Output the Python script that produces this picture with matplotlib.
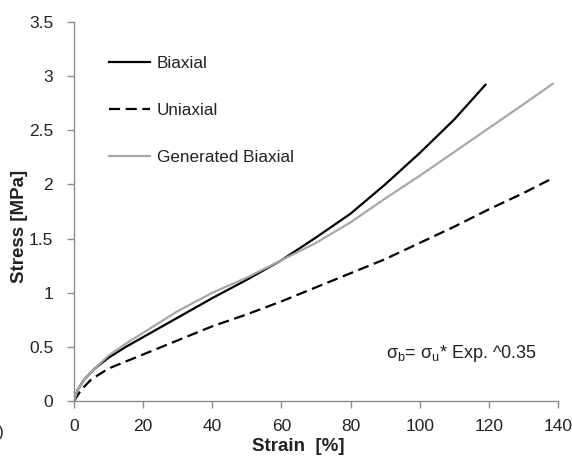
import matplotlib
matplotlib.use('Agg')
import matplotlib.pyplot as plt

plt.rcParams['font.family'] = ['Liberation Sans', 'DejaVu Sans']
plt.rcParams['mathtext.fontset'] = 'custom'
plt.rcParams['mathtext.rm'] = 'Liberation Sans'
plt.rcParams['mathtext.it'] = 'Liberation Sans'

# Stress-strain curves (strain in %, stress in MPa)
biax_strain = [0, 1, 3, 6, 10, 15, 20, 30, 40, 50, 60, 70, 80, 90, 100, 110, 119]
biax_stress = [0, 0.1, 0.2, 0.3, 0.4, 0.5, 0.59, 0.77, 0.95, 1.12, 1.3, 1.51, 1.73, 2.0, 2.29, 2.6, 2.92]

uni_strain = [0, 2, 5, 10, 20, 30, 40, 50, 60, 70, 80, 90, 100, 110, 120, 130, 138]
uni_stress = [0, 0.1, 0.2, 0.3, 0.43, 0.56, 0.69, 0.8, 0.92, 1.05, 1.18, 1.31, 1.46, 1.61, 1.77, 1.92, 2.05]

gen_strain = [0, 1, 3, 6, 10, 15, 20, 30, 40, 50, 60, 70, 80, 90, 100, 110, 120, 130, 138.5]
gen_stress = [0, 0.1, 0.2, 0.3, 0.42, 0.53, 0.63, 0.83, 1.0, 1.14, 1.3, 1.46, 1.65, 1.87, 2.08, 2.3, 2.52, 2.74, 2.93]

x_ticks = [0, 20, 40, 60, 80, 100, 120, 140]
y_ticks = [0, 0.5, 1, 1.5, 2, 2.5, 3, 3.5]
y_tick_labels = ['0', '0.5', '1', '1.5', '2', '2.5', '3', '3.5']

fig = plt.figure(figsize=(5.72, 4.57), dpi=100)
ax = fig.add_axes([74/572, 1 - 401/457, 484/572, 379/457])

ax.plot(biax_strain, biax_stress, color='black', lw=1.6, label='Biaxial')
ax.plot(uni_strain, uni_stress, color='black', lw=1.6, linestyle=(0, (5, 2.5)), label='Uniaxial')
ax.plot(gen_strain, gen_stress, color='#a8a8a8', lw=1.6, label='Generated Biaxial')

ax.set_xlim(0, 140)
ax.set_ylim(0, 3.5)
ax.set_xticks(x_ticks)
ax.set_yticks(y_ticks)
ax.set_yticklabels(y_tick_labels)

for side in ['top', 'right']:
    ax.spines[side].set_visible(False)
for side in ['left', 'bottom']:
    ax.spines[side].set_color('#8c8c8c')
    ax.spines[side].set_linewidth(1.0)
ax.tick_params(axis='both', direction='out', length=5, width=1.0, color='#8c8c8c',
               labelsize=12.5, labelcolor='#222222')
ax.tick_params(axis='x', pad=8)
ax.tick_params(axis='y', pad=10)

ax.set_xlabel('Strain  [%]', fontsize=13.5, fontweight='bold', color='#222222')
ax.set_ylabel('Stress [MPa]', fontsize=13.5, fontweight='bold', color='#222222')
ax.xaxis.set_label_coords(0.463, -0.097)
ax.yaxis.set_label_coords(-0.096, 0.46)

ax.legend(loc='upper left', bbox_to_anchor=(0.04, 0.95), frameon=False, fontsize=12.3,
          handlelength=2.4, handletextpad=0.4, labelspacing=1.85, labelcolor='#222222')

ax.text(112, 0.44, r'$\mathregular{\sigma_b}$= $\mathregular{\sigma_u}$* Exp. ^0.35',
        fontsize=13, color='#222222', ha='center', va='center')

fig.text(5/572, 1 - 432/457, 'b)', fontsize=12, ha='right', va='center', color='#222222')

fig.savefig('out.png', dpi=100)
